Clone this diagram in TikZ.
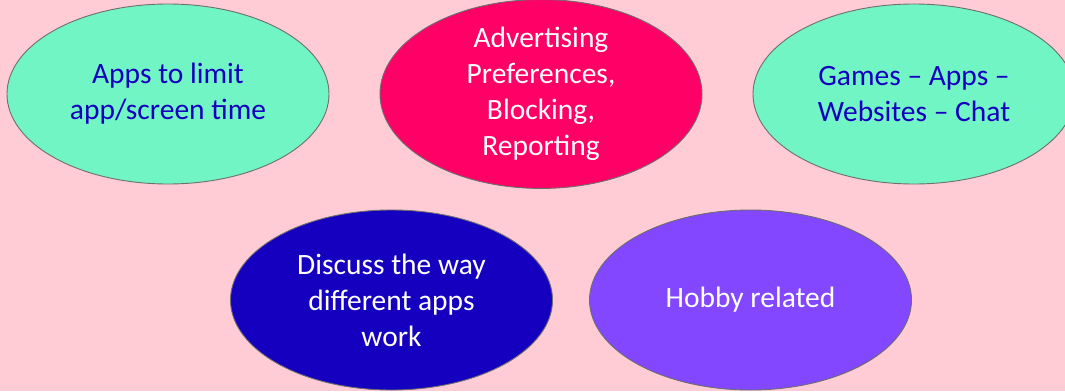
\documentclass[tikz,border=0pt]{standalone}
\usepackage{fontspec}
\setmainfont{Carlito}
\usetikzlibrary{shapes.geometric}
\definecolor{bgpink}{RGB}{255,204,214}
\definecolor{mint}{RGB}{114,245,196}
\definecolor{hotpink}{RGB}{255,0,102}
\definecolor{deepblue}{RGB}{21,0,191}
\definecolor{violet}{RGB}{130,71,255}
\definecolor{rim}{RGB}{110,110,110}
\begin{document}
\begin{tikzpicture}[x=1pt,y=-1pt,
  bubble/.style={ellipse, draw=rim, line width=0.9pt, inner sep=0pt,
    minimum width=322pt, minimum height=180pt, align=center,
    font=\fontsize{29.5}{36}\selectfont},
  mintbubble/.style={bubble, fill=mint, text=deepblue},
  pinkbubble/.style={bubble, fill=hotpink, text=white},
  bluebubble/.style={bubble, fill=deepblue, text=white},
  violetbubble/.style={bubble, fill=violet, text=white}]
\fill[bgpink] (0,0) rectangle (1065,391);
\useasboundingbox (0,0) rectangle (1065,391);
\clip (0,0) rectangle (1065,391);
\node[mintbubble] (limit) at (168,94) {Apps to limit\\app/screen time};
\node[pinkbubble] (advert) at (541,94) {Advertising\\Preferences,\\Blocking,\\Reporting};
\node[mintbubble] (games) at (914,94) {Games – Apps –\\Websites – Chat};
\node[bluebubble] (discuss) at (391.5,300) {Discuss the way\\different apps\\work};
\node[violetbubble] (hobby) at (750.5,300) {Hobby related};
\end{tikzpicture}
\end{document}
